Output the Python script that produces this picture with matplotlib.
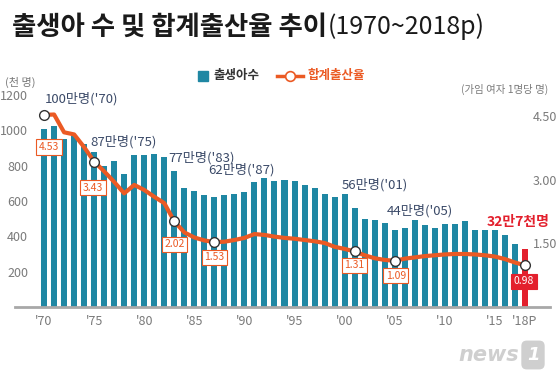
import matplotlib
matplotlib.use('Agg')
import matplotlib.pyplot as plt
from matplotlib.lines import Line2D
from matplotlib.patches import Rectangle

plt.rcParams['font.family'] = ['Noto Sans CJK KR', 'DejaVu Sans']

# ---- data ----
years = list(range(1970, 2019))
births = [1006.6, 1024.8, 952.8, 965.5, 922.8, 874.9, 796.3, 825.3, 750.7, 862.7,
          862.8, 867.4, 848.3, 769.2, 674.8, 655.5, 636.0, 623.8, 633.1, 639.4,
          649.7, 709.3, 730.7, 715.8, 721.2, 715.0, 691.2, 675.4, 641.6, 620.7,
          640.1, 559.9, 496.9, 495.0, 476.0, 435.0, 448.2, 493.2, 465.9, 444.8,
          470.2, 471.3, 484.6, 436.5, 435.4, 438.4, 406.2, 357.8, 326.8]
rates = [4.53, 4.54, 4.12, 4.07, 3.77, 3.43, 3.20, 2.95, 2.68, 2.88,
         2.76, 2.60, 2.45, 2.02, 1.76, 1.64, 1.57, 1.53, 1.54, 1.58,
         1.63, 1.72, 1.70, 1.66, 1.63, 1.61, 1.58, 1.55, 1.51, 1.42,
         1.37, 1.31, 1.22, 1.15, 1.11, 1.09, 1.14, 1.17, 1.20, 1.22,
         1.24, 1.25, 1.25, 1.24, 1.22, 1.19, 1.13, 1.05, 0.98]
label_years = [1970, 1975, 1983, 1987, 2001, 2005, 2018]
tick_years = [1970, 1975, 1980, 1985, 1990, 1995, 2000, 2005, 2010, 2015, 2018]
tick_labels = ["'70", "'75", "'80", "'85", "'90", "'95", "'00", "'05", "'10", "'15", "'18P"]
left_ticks = [200, 400, 600, 800, 1000, 1200]
right_ticks = [1.5, 3.0, 4.5]
count_notes = ["100만명('70)", "87만명('75)", "77만명('83)", "62만명('87)", "56만명('01)", "44만명('05)"]
last_note = "32만7천명"

W, H = 560, 379
BLUE = '#1F87A3'
RED = '#E3202D'
ORANGE = '#EB5A24'
NAVY = '#3B4A68'
GREY = '#7A7A7A'

def fx(x):
    return x / W

def fy(y):
    return 1 - y / H

fig = plt.figure(figsize=(W / 100, H / 100), dpi=100)
ax = fig.add_axes([fx(15), fy(307), (550 - 15) / W, 212 / H])
ax.set_xlim(1967.1, 2020.5)
ax.set_ylim(0, 1200)

bar_colors = [BLUE] * (len(years) - 1) + [RED]
ax.bar(years, births, width=0.6, color=bar_colors, zorder=2)

for s in ['top', 'left', 'right']:
    ax.spines[s].set_visible(False)
ax.spines['bottom'].set_color('#A8A8A8')
ax.spines['bottom'].set_linewidth(2)
ax.set_xticks(tick_years)
ax.set_xticklabels(tick_labels)
ax.set_yticks(left_ticks)
ax.tick_params(axis='x', length=0, pad=6, labelsize=9, labelcolor=GREY)
ax.tick_params(axis='y', length=0, pad=-9.4, labelsize=9, labelcolor=GREY)

ax2 = ax.twinx()
ax2.set_ylim(0, 5.0)
for s in ['top', 'left', 'right', 'bottom']:
    ax2.spines[s].set_visible(False)
ax2.set_yticks(right_ticks)
ax2.set_yticklabels(['%.2f' % v for v in right_ticks])
ax2.tick_params(axis='y', length=0, pad=-12.2, labelsize=9, labelcolor=GREY)

ax2.plot(years, rates, color=ORANGE, lw=3, solid_joinstyle='round',
         solid_capstyle='round', zorder=3, clip_on=False)
mk_r = [rates[years.index(y)] for y in label_years]
ax2.plot(label_years, mk_r, ls='none', marker='o', ms=7, mfc='white',
         mec='#333333', mew=1, zorder=4, clip_on=False)

# rate labels under the markers (offsets in px)
offs = [(5, -32), (-1, -26), (0, -23), (0, -15), (0, -14), (1, -15), (-1, -16)]
for (yr, r), (dx, dy) in zip(zip(label_years, mk_r), offs):
    last = yr == label_years[-1]
    ax2.annotate('%.2f' % r, (yr, r), xytext=(dx * 0.72, dy * 0.72),
                 textcoords='offset points', ha='center', va='center',
                 fontsize=7.5, color='white' if last else ORANGE, zorder=5,
                 bbox=dict(boxstyle='square,pad=0.25', fc=RED if last else 'white',
                           ec=RED if last else ORANGE, lw=0.8))

# birth count notes
note_pos = [(45, 99), (90, 142), (168, 158), (208, 170), (342, 185), (387, 211)]
for t, (px, py) in zip(count_notes, note_pos):
    fig.text(fx(px), fy(py), t, fontsize=9.5, color=NAVY, ha='left', va='center')
fig.text(fx(487), fy(222), last_note, fontsize=10, color=RED, ha='left', va='center',
         fontweight='bold')

# titles and units
t1 = fig.text(fx(12), fy(27), '출생아 수 및 합계출산율 추이', fontsize=19,
              fontweight='bold', color='#1A1A1A', ha='left', va='center')
fig.canvas.draw()
ext = t1.get_window_extent()
fig.text(ext.x1 / W + 0.002, fy(27), '(1970~2018p)', fontsize=18, color='#1A1A1A',
         ha='left', va='center')
fig.text(fx(5), fy(82), '(천 명)', fontsize=8, color=GREY, ha='left', va='center')
fig.text(fx(548), fy(89), '(가임 여자 1명당 명)', fontsize=7.5, color=GREY,
         ha='right', va='center')

# legend
fig.patches.append(Rectangle((fx(198), fy(81)), 10 / W, 10 / H, color=BLUE,
                             transform=fig.transFigure, figure=fig))
fig.text(fx(213), fy(76), '출생아수', fontsize=9, fontweight='bold', color='#333333',
         ha='left', va='center')
fig.lines.append(Line2D([fx(277), fx(303)], [fy(76), fy(76)], color=ORANGE, lw=2.5,
                        transform=fig.transFigure, figure=fig))
fig.lines.append(Line2D([fx(290)], [fy(76)], marker='o', ms=7, mfc='white', mec=ORANGE,
                        mew=1.2, transform=fig.transFigure, figure=fig))
fig.text(fx(307), fy(76), '합계출산율', fontsize=9, fontweight='bold', color=ORANGE,
         ha='left', va='center')

# watermark
fig.text(fx(458), fy(355), 'news', fontsize=15, fontweight='bold', style='italic',
         color='#CFCFCF', ha='left', va='center', family='DejaVu Sans')
fig.text(fx(533), fy(355), '1', fontsize=13, fontweight='bold', style='italic',
         color='white', ha='center', va='center', family='DejaVu Sans',
         bbox=dict(boxstyle='round,pad=0.3', fc='#CFCFCF', ec='none'))

plt.savefig('out.png', dpi=100)
